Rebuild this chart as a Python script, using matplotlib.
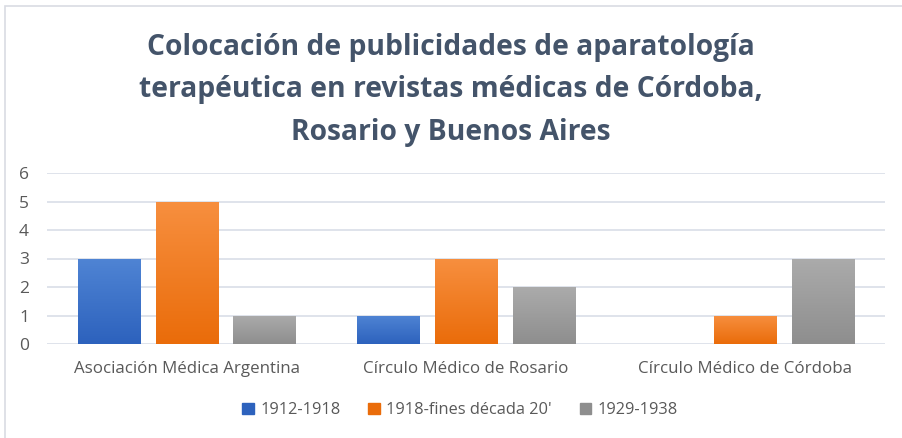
import matplotlib
matplotlib.use("Agg")
import matplotlib.pyplot as plt
import numpy as np
from matplotlib.patches import Rectangle

# data
categories = ["Asociación Médica Argentina", "Círculo Médico de Rosario", "Círculo Médico de Córdoba"]
series_names = ["1912-1918", "1918-fines década 20'", "1929-1938"]
v_1912 = [3, 1, 0]
v_1918 = [5, 3, 1]
v_1929 = [1, 2, 3]
y_ticks = [0, 1, 2, 3, 4, 5, 6]

title = ("Colocación de publicidades de aparatología\n"
         "terapéutica en revistas médicas de Córdoba,\n"
         "Rosario y Buenos Aires")

# (top colour, bottom colour) for the Excel-like gradient
grads = [("#4f84d4", "#2d62bd"), ("#f78f3f", "#ea6c0a"), ("#ababab", "#8e8e8e")]

W, H = 902, 438
fig = plt.figure(figsize=(W / 100, H / 100), dpi=100)
fig.patch.set_facecolor("white")

# light chart border (top and left visible, rest cropped off)
fig.add_artist(Rectangle((5 / W, -0.1), 1.2, (H - 6) / H + 0.1, transform=fig.transFigure,
                         fill=False, ec="#d9dce3", lw=1.2))

ax = fig.add_axes([47 / W, 94 / H, (885 - 47) / W, (344 - 173) / H])
x = np.arange(len(categories))
width = 0.222
offsets = [-0.278, 0.0, 0.278]
grad_img = np.linspace(0, 1, 100).reshape(-1, 1)

for vals, off, (top, bot), name in zip([v_1912, v_1918, v_1929], offsets, grads, series_names):
    bars = ax.bar(x + off, vals, width, color=bot, label=name, zorder=2)
    cmap = matplotlib.colors.LinearSegmentedColormap.from_list("g", [top, bot])
    for b in bars:
        h = b.get_height()
        if h <= 0:
            continue
        x0 = b.get_x()
        im = ax.imshow(grad_img, cmap=cmap, aspect="auto", origin="upper",
                       extent=(x0, x0 + b.get_width(), 0, h), zorder=3)
        im.set_clip_path(b)

ax.set_xlim(-0.5, 2.5)
ax.set_ylim(0, 6)
ax.set_yticks(y_ticks)
ax.set_xticks(x)
ax.set_xticklabels(categories)
ax.grid(axis="y", color="#d9dee8", lw=1.2, zorder=0)
for s in ax.spines.values():
    s.set_visible(False)
ax.tick_params(length=0, colors="#595959", labelfontfamily="Open Sans")
ax.tick_params(axis="y", pad=13, labelsize=12.5)
ax.tick_params(axis="x", pad=12, labelsize=12.2)

fig.text(0.5, 1 - 90 / H, title, ha="center", va="center", fontsize=20.3,
         fontweight="bold", family="Open Sans", color="#44546a", linespacing=1.6)

handles = [Rectangle((0, 0), 1, 1, color=c[1]) for c in grads]
fig.legend(handles, series_names, loc="center", bbox_to_anchor=(0.51, 1 - 410 / H),
           ncol=3, frameon=False, handlelength=0.7, handleheight=0.7, handletextpad=0.4,
           columnspacing=1.7, prop={"family": "Open Sans", "size": 11.8}, labelcolor="#595959")

fig.savefig("out.png", dpi=100, facecolor="white")
